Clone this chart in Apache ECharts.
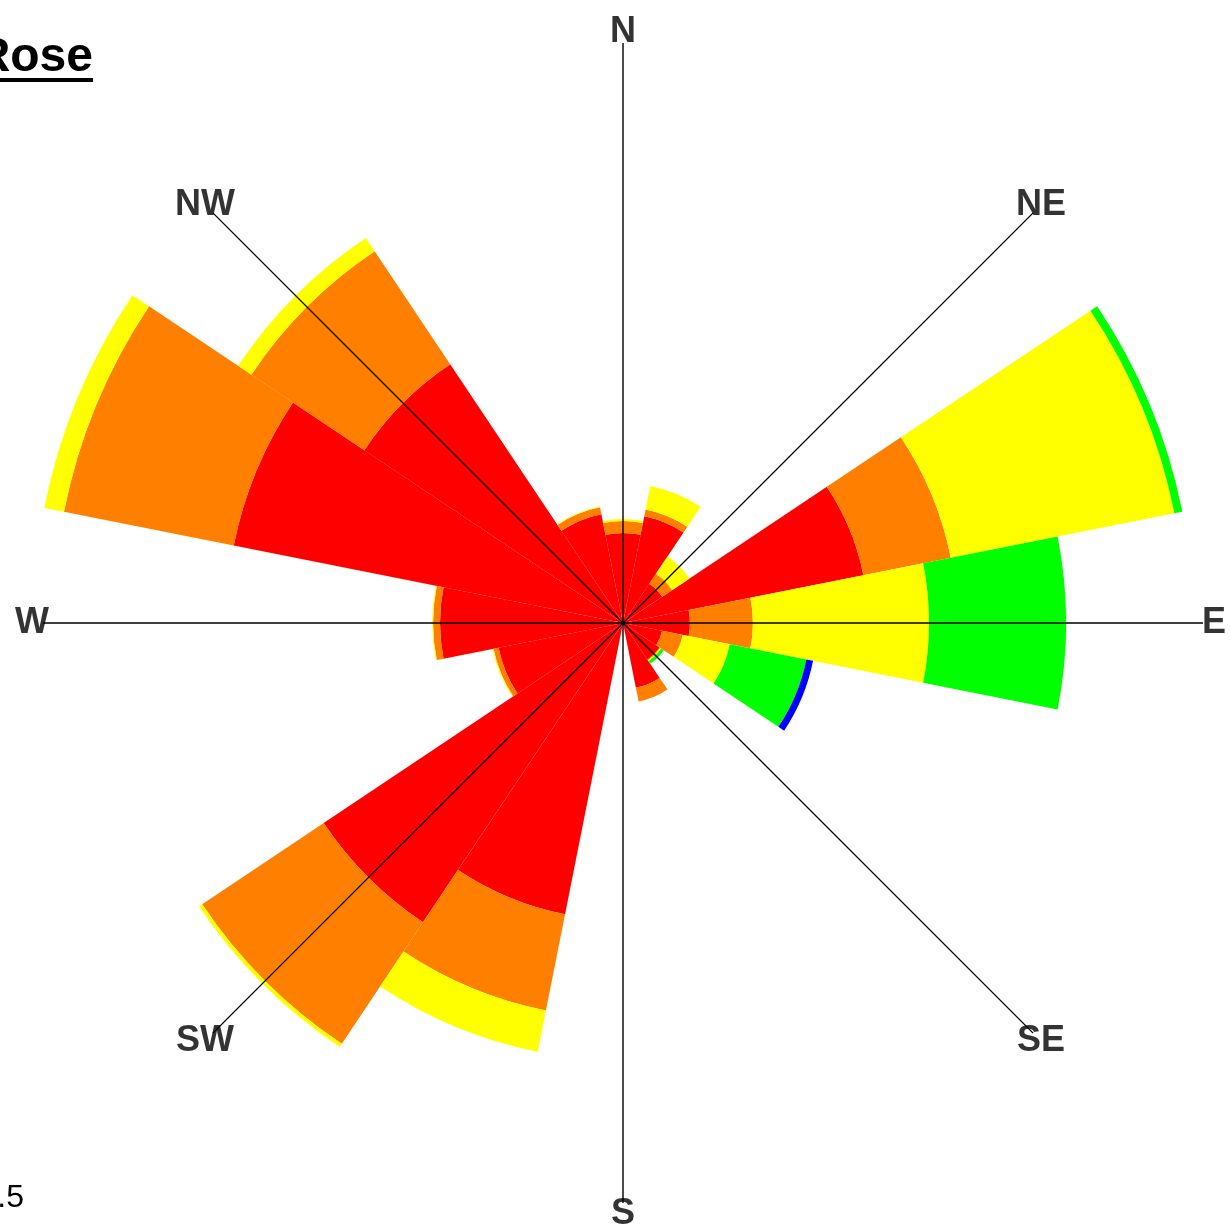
<!DOCTYPE html>
<html>
<head>
<meta charset="utf-8">
<script src="https://cdn.jsdelivr.net/npm/echarts@6/dist/echarts.min.js"></script>
<style>
  html, body { margin: 0; padding: 0; background: #ffffff; }
  #chart { width: 1230px; height: 1227px; }
</style>
</head>
<body>
<div id="chart"></div>
<script>
// 16 wind directions, clockwise from North
const directions = ['N','NNE','NE','ENE','E','ESE','SE','SSE','S','SSW','SW','WSW','W','WNW','NW','NNW'];

// Frequency per speed class (stacked from the centre outwards)
const redValues    = [3.00, 3.63, 1.57, 8.17, 2.23, 1.33, 1.47, 2.20, 0, 9.90, 12.00, 4.23, 6.10, 13.23, 10.37, 3.70];
const orangeValues = [0.40, 0.23, 0.40, 2.97, 2.10, 0.70, 0.03, 0.47, 0, 3.27,  4.87, 0.17, 0.23,  5.77,  4.53, 0.23];
const yellowValues = [0.07, 0.80, 0.70, 7.60, 5.87, 1.60, 0.03, 0.00, 0, 1.40,  0.13, 0.03, 0.03,  0.67,  0.53, 0.03];
const greenValues  = [0,    0,    0,    0.27, 4.57, 2.60, 0.10, 0,    0, 0,     0,    0,    0,     0,     0,    0];
const blueValues   = [0,    0,    0,    0,    0,    0.23, 0,    0,    0, 0,     0,    0,    0,     0,     0,    0];

// Compass labels and their bearings (degrees)
const compassLabels = ['N','NE','E','SE','S','SW','W','NW'];
const compassAngles = [0, 45, 90, 135, 180, 225, 270, 315];

const classColors = ['#ff0000', '#ff8000', '#ffff00', '#00ff00', '#0000ff'];
const classNames = ['c1', 'c2', 'c3', 'c4', 'c5'];
const classValues = [redValues, orangeValues, yellowValues, greenValues, blueValues];

const chart = echarts.init(document.getElementById('chart'), null, { renderer: 'canvas' });

const CENTER = [623, 623];
const LINE_R = 580;
const LABEL_R = 591;

const hiddenAxis = {
  axisLine: { show: false },
  axisTick: { show: false },
  axisLabel: { show: false },
  splitLine: { show: false }
};

const barSeries = classValues.map((vals, i) => ({
  type: 'bar',
  name: classNames[i],
  coordinateSystem: 'polar',
  polarIndex: 0,
  stack: 'wind',
  data: vals,
  barCategoryGap: '0%',
  itemStyle: { color: classColors[i] },
  silent: true,
  z: 2
}));

const option = {
  backgroundColor: '#ffffff',
  animation: false,
  polar: [
    { center: CENTER, radius: 600 },
    { center: CENTER, radius: LINE_R },
    { center: CENTER, radius: LABEL_R + 20 }
  ],
  angleAxis: [
    Object.assign({
      polarIndex: 0,
      type: 'category',
      data: directions,
      startAngle: 90 + 11.25,
      clockwise: true,
      boundaryGap: true
    }, hiddenAxis),
    {
      polarIndex: 1,
      type: 'value',
      min: 0,
      max: 360,
      interval: 45,
      startAngle: 90,
      clockwise: true,
      axisLine: { show: false },
      axisTick: { show: false },
      axisLabel: { show: false },
      splitLine: { show: true, lineStyle: { color: '#000000', width: 1.4 } },
      z: 10
    },
    Object.assign({
      polarIndex: 2,
      type: 'value',
      min: 0,
      max: 360,
      interval: 45,
      startAngle: 90,
      clockwise: true
    }, hiddenAxis)
  ],
  radiusAxis: [
    Object.assign({ polarIndex: 0, type: 'value', min: 0, max: 20 }, hiddenAxis),
    Object.assign({ polarIndex: 1, type: 'value', min: 0, max: 1 }, hiddenAxis),
    Object.assign({ polarIndex: 2, type: 'value', min: 0, max: LABEL_R + 20 }, hiddenAxis)
  ],
  series: barSeries.concat([{
    type: 'scatter',
    coordinateSystem: 'polar',
    polarIndex: 2,
    symbol: 'circle',
    symbolSize: 2,
    clip: false,
    itemStyle: { color: 'rgba(255,255,255,0)' },
    silent: true,
    z: 20,
    data: compassLabels.map((name, i) => ({ name: name, value: [LABEL_R, compassAngles[i]] })),
    label: {
      show: true,
      position: 'inside',
      formatter: '{b}',
      fontFamily: 'Liberation Sans, Arial, sans-serif',
      fontWeight: 'bold',
      fontSize: 36,
      color: '#000000'
    }
  }]),
  graphic: [
    {
      type: 'text',
      z: 30,
      style: {
        text: 'Wind Rose',
        x: 93,
        y: 58,
        align: 'right',
        verticalAlign: 'middle',
        font: 'bold 48px "Liberation Sans", Arial, sans-serif',
        fill: '#000000'
      }
    },
    {
      type: 'rect',
      z: 30,
      shape: { x: -10, y: 78, width: 103, height: 4 },
      style: { fill: '#000000' }
    },
    {
      type: 'text',
      z: 30,
      style: {
        text: '.5',
        x: 24,
        y: 1198,
        align: 'right',
        verticalAlign: 'middle',
        font: '32px "Liberation Sans", Arial, sans-serif',
        fill: '#000000'
      }
    }
  ]
};

chart.setOption(option);
</script>
</body>
</html>
